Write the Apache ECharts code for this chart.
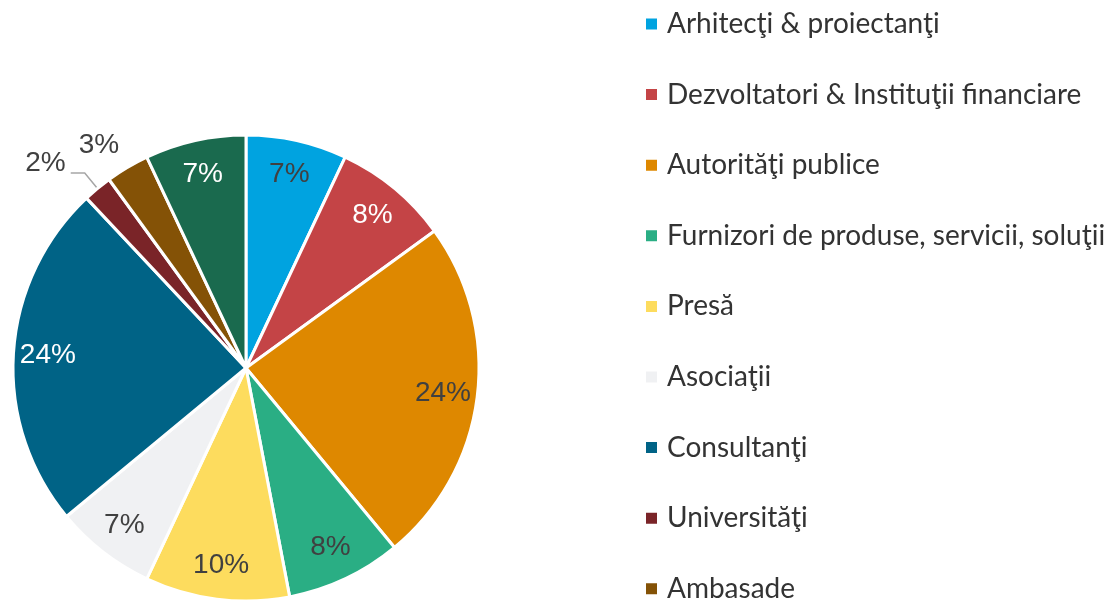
<!DOCTYPE html>
<html>
<head>
<meta charset="utf-8">
<script src="https://cdn.jsdelivr.net/npm/echarts@6/dist/echarts.min.js"></script>
<style>
  html, body { margin: 0; padding: 0; background: #fff; }
  #chart { width: 1115px; height: 600px; }
</style>
</head>
<body>
<div id="chart"></div>
<script>
// categories and shares (%)
const names = [
  'Arhitecţi & proiectanţi',
  'Dezvoltatori & Instituţii financiare',
  'Autorităţi publice',
  'Furnizori de produse, servicii, soluţii',
  'Presă',
  'Asociaţii',
  'Consultanţi',
  'Universităţi',
  'Ambasade',
  'Altele'
];
const values = [7, 8, 24, 8, 10, 7, 24, 2, 3, 7];
const colors = ['#00a3e0', '#c44446', '#de8800', '#2aae84', '#fddc5e',
                '#f0f1f3', '#006386', '#7a2428', '#845206', '#1a6a4e'];
const labelColors = ['#404040', '#ffffff', '#404040', '#404040', '#404040',
                     '#404040', '#ffffff', '#404040', '#404040', '#ffffff'];

const chart = echarts.init(document.getElementById('chart'));
const R = 233;
const center = [246, 368];

// slices
const sliceData = names.map((n, i) => ({
  name: n, value: values[i], itemStyle: { color: colors[i] }
}));

// labels sit on a transparent ring so that they land near the rim
const labelData = names.map((n, i) => {
  const d = {
    name: n, value: values[i],
    label: { color: labelColors[i] }
  };
  if (n === 'Universităţi') {
    // empty second line lifts the text above the end of the leader line
    d.label = { position: 'outside', color: '#404040', formatter: '{c}%\n{s|}', rich: { s: { height: 20 } } };
    d.labelLine = { show: true, length: 20, length2: 14, lineStyle: { color: '#a6a6a6', width: 1.5 } };
  }
  if (n === 'Ambasade') {
    d.label = { position: 'outside', color: '#404040', distanceToLabelLine: -5 };
    d.labelLine = { show: false, length: 26, length2: 0 };
  }
  return d;
});

const options = {
  animation: false,
  legend: {
    orient: 'vertical',
    left: 639,
    top: 4,
    height: 1000,
    data: names,
    icon: 'rect',
    itemWidth: 13,
    itemHeight: 13,
    itemGap: 40.6,
    textStyle: {
      fontFamily: 'Lato',
      fontSize: 28,
      lineHeight: 30,
      color: '#333333',
      padding: [0, 0, 0, 4]
    },
    selectedMode: false
  },
  series: [
    {
      type: 'pie',
      center: center,
      radius: [0, R],
      startAngle: 90,
      clockwise: true,
      silent: true,
      label: { show: false },
      labelLine: { show: false },
      itemStyle: { borderColor: '#ffffff', borderWidth: 3 },
      data: sliceData
    },
    {
      type: 'pie',
      center: center,
      radius: [158, R],
      startAngle: 90,
      clockwise: true,
      silent: true,
      avoidLabelOverlap: false,
      itemStyle: { color: 'rgba(0,0,0,0)' },
      label: {
        show: true,
        position: 'inside',
        formatter: '{c}%',
        fontFamily: 'Liberation Sans',
        fontSize: 28
      },
      labelLine: { show: false },
      data: labelData
    }
  ]
};
chart.setOption(options, true);
</script>
</body>
</html>
